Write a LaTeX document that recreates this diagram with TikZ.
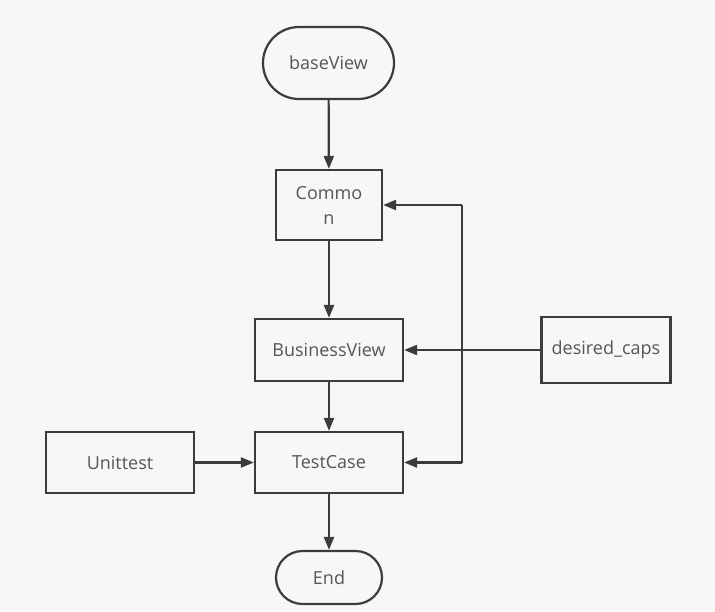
\documentclass[tikz,border=0pt]{standalone}
\usepackage{fontspec}
\setmainfont{Open Sans}
\usetikzlibrary{arrows.meta,shapes.misc}
\definecolor{bg}{HTML}{F7F7F7}
\definecolor{ln}{HTML}{3C3C3C}
\definecolor{tx}{HTML}{555555}
\begin{document}
\begin{tikzpicture}[x=1pt,y=-1pt,
  box/.style={draw=ln,line width=2.2pt,text=tx,font=\fontsize{18}{25}\selectfont,inner sep=0pt,align=center},
  term/.style={box,rounded rectangle},
  conn/.style={draw=ln,line width=2.2pt,-{Triangle[length=13pt,width=10pt]}}]
\fill[bg] (0,0) rectangle (715,611);
\useasboundingbox (0,0) rectangle (715,611);
\node[term,minimum width=131pt,minimum height=72pt] (base) at (328.5,63) {baseView};
\node[box,minimum width=106pt,minimum height=70pt] (common) at (329,205) {Commo\\n};
\node[box,minimum width=148pt,minimum height=62pt] (bv) at (329,350) {BusinessView};
\node[box,minimum width=129pt,minimum height=66pt] (dc) at (606,350) {desired\_caps};
\node[box,minimum width=148pt,minimum height=61pt] (ut) at (120,462.5) {Unittest};
\node[box,minimum width=148pt,minimum height=61pt] (tc) at (329,462.5) {TestCase};
\node[term,minimum width=106pt,minimum height=53pt] (end) at (329,577.5) {End};
\coordinate (jt) at (462,205);
\coordinate (jb) at (462,462.5);
\draw[conn] (base) -- (common);
\draw[conn] (common) -- (bv);
\draw[conn] (bv) -- (tc);
\draw[conn] (tc) -- (end);
\draw[conn] (ut) -- (tc);
\draw[conn] (dc) -- (bv);
\draw[draw=ln,line width=2.2pt] (jt) -- (jb);
\draw[conn] (jt) -- (common);
\draw[conn] (jb) -- (tc);
\end{tikzpicture}
\end{document}
